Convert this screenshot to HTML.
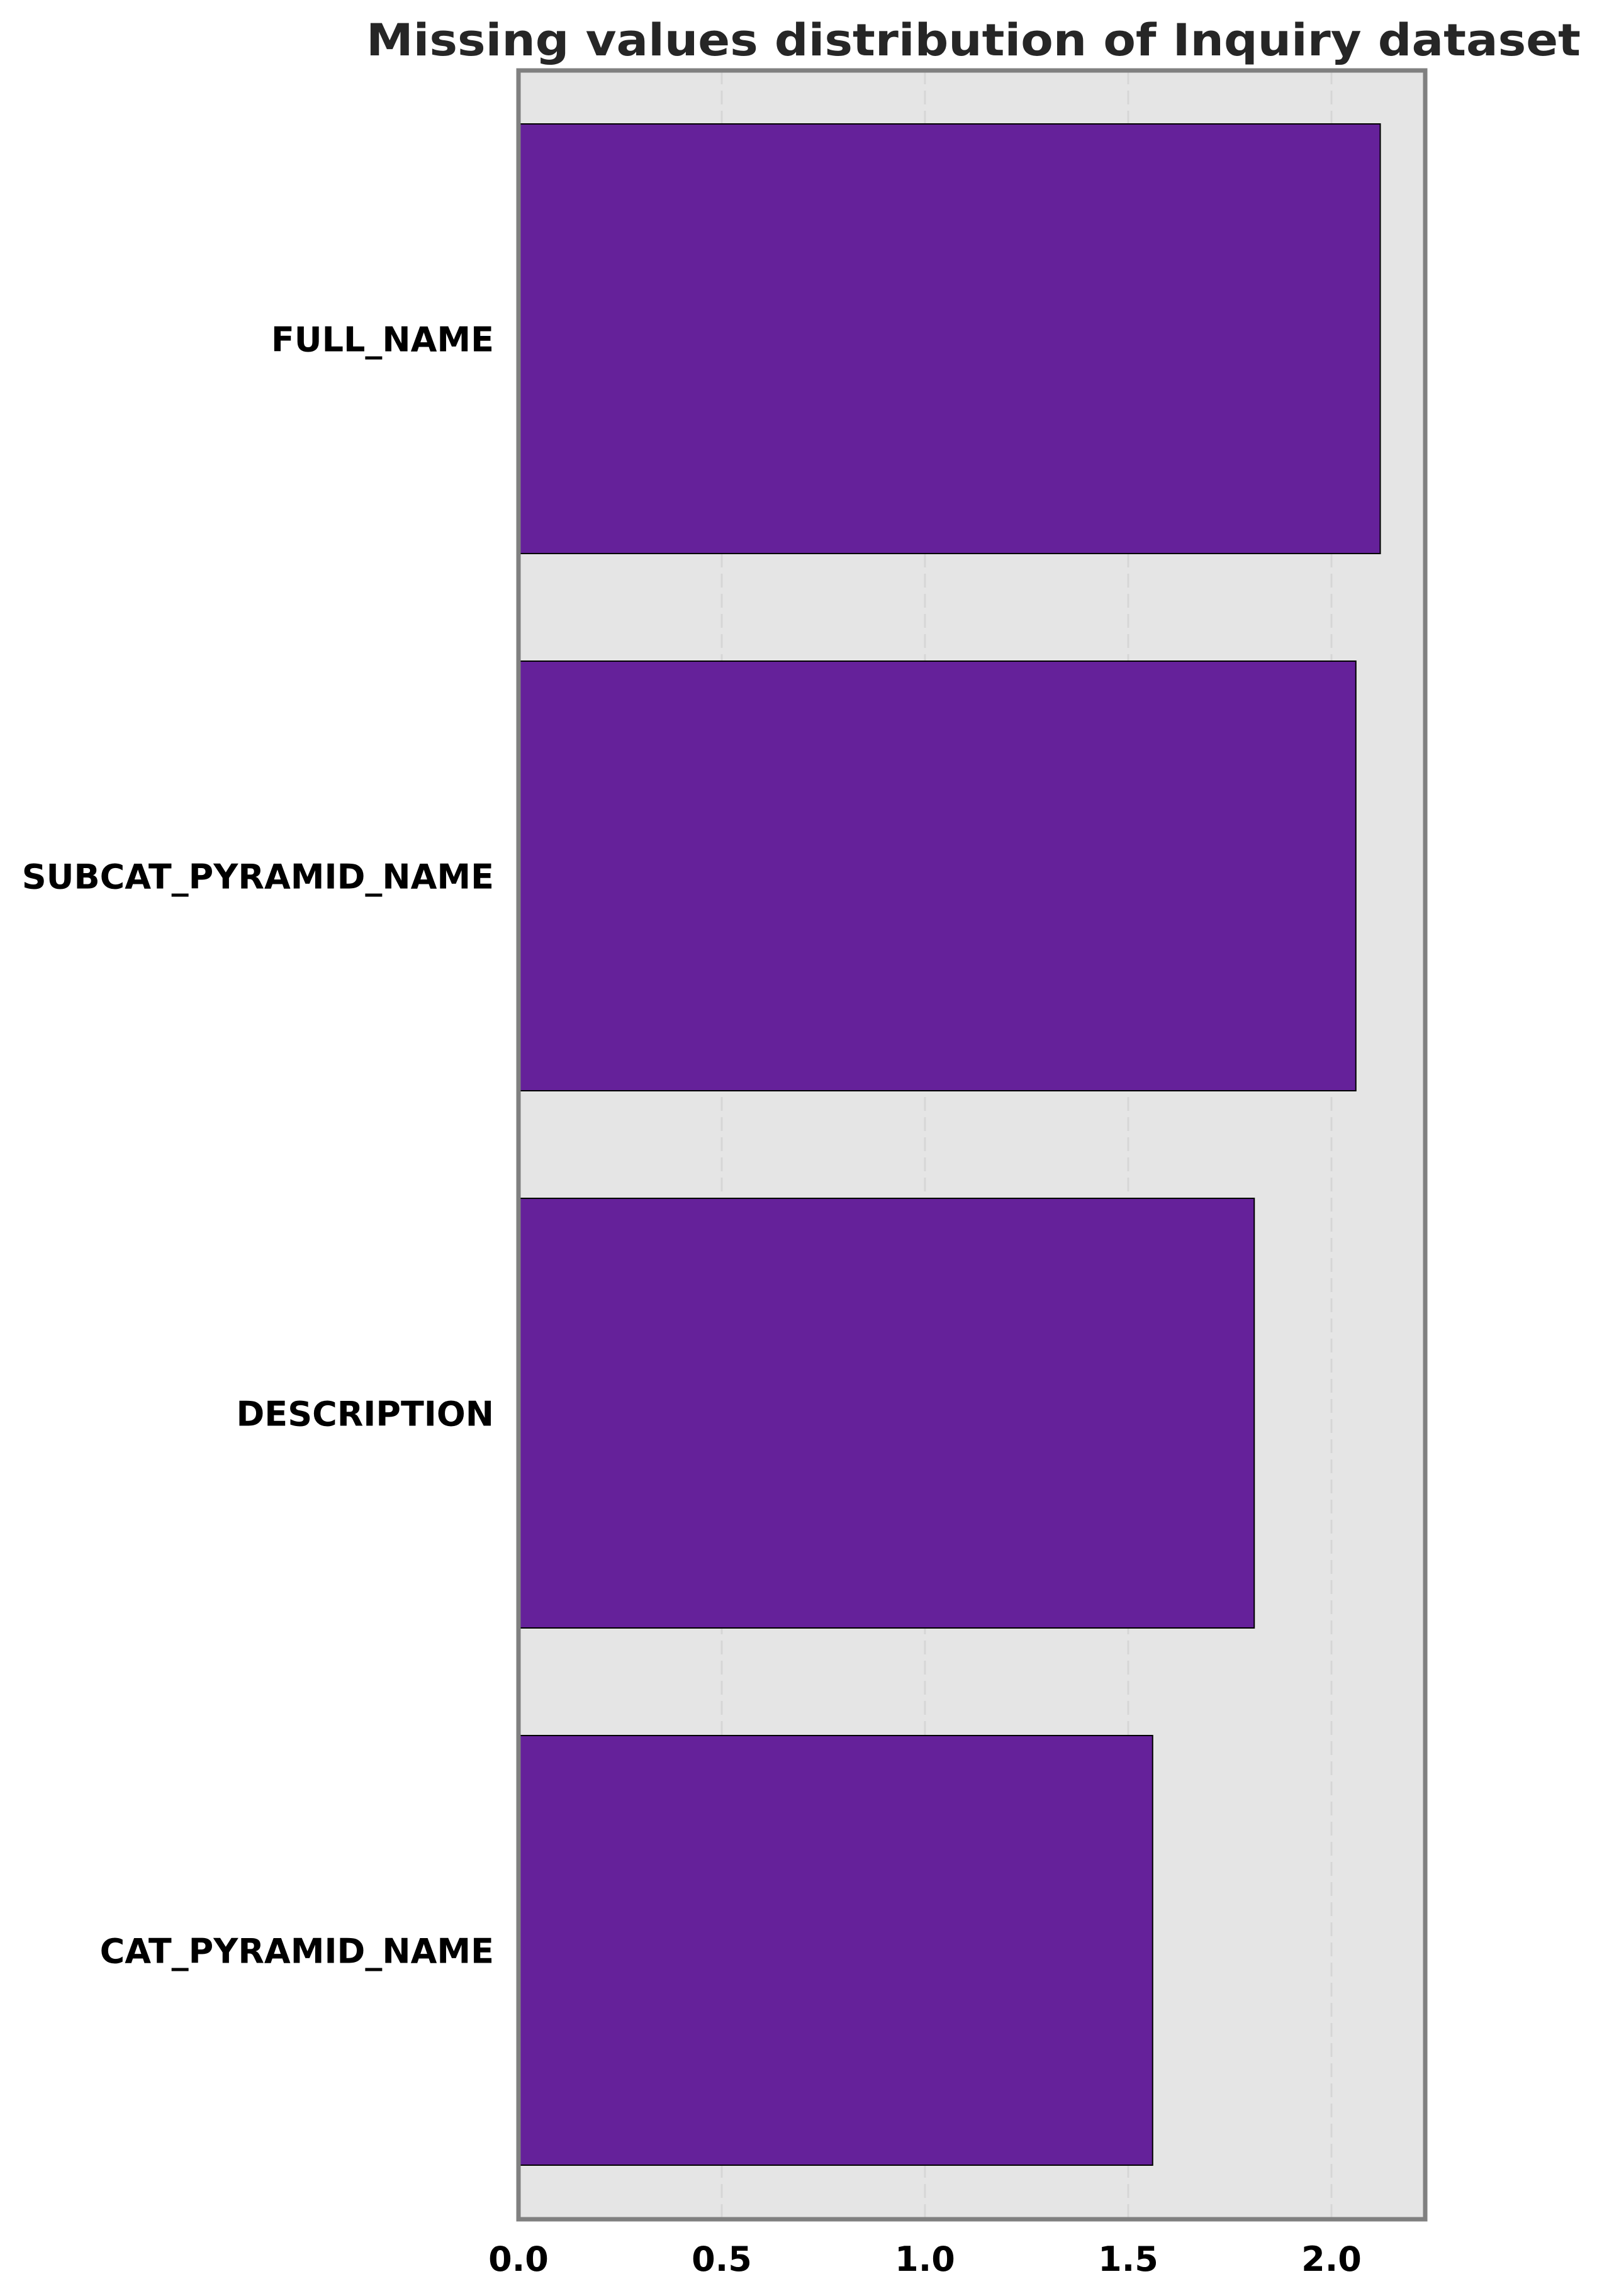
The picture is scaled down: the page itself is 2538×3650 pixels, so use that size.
<!DOCTYPE html>
<html><head><meta charset="utf-8"><style>html,body{margin:0;padding:0;background:#fff}svg{display:block}</style></head>
<body>
<svg id="chart" width="2538" height="3650" viewBox="0 0 2538 3650" xmlns="http://www.w3.org/2000/svg" font-family="DejaVu Sans, Liberation Sans, sans-serif">
<rect x="824" y="112" width="1441" height="3416" fill="#e5e5e5"/>
<g id="grid"></g>
<g id="bars"></g>
<rect x="824" y="112" width="1441" height="3416" fill="none" stroke="#808080" stroke-width="7"/>
<g id="xticks"></g>
<g id="ylabels"></g>
<text x="1547" y="88" text-anchor="middle" font-size="70" font-weight="bold" fill="#262626" textLength="1930" lengthAdjust="spacingAndGlyphs">Missing values distribution of Inquiry dataset</text>
</svg>
<script>
const categories = ["FULL_NAME", "SUBCAT_PYRAMID_NAME", "DESCRIPTION", "CAT_PYRAMID_NAME"];
const values = [2.12, 2.06, 1.81, 1.56];
const xTicks = [0, 0.5, 1.0, 1.5, 2.0];
const xTickLabels = ["0.0", "0.5", "1.0", "1.5", "2.0"];

const NS = "http://www.w3.org/2000/svg";
const X0 = 824, PXU = 646;
function xScale(v){ return X0 + v * PXU; }
const pitch = 854, barH = 683, firstTop = 197;
function yTop(i){ return firstTop + i * pitch; }

const grid = document.getElementById('grid');
xTicks.forEach((t,i)=>{
  if (t === 0) return;
  const l = document.createElementNS(NS,'line');
  
  
  l.setAttribute('x1', xScale(t)); l.setAttribute('x2', xScale(t));
  l.setAttribute('y1', 112); l.setAttribute('y2', 3528);
  l.setAttribute('stroke', '#d6d6d6'); l.setAttribute('stroke-width', '3');
  l.setAttribute('stroke-dasharray', '22 10');
  grid.appendChild(l);
});
const xt = document.getElementById('xticks');
xTicks.forEach((t,i)=>{
  const tx = document.createElementNS(NS,'text');
  
  
  tx.setAttribute('x', xScale(t)); tx.setAttribute('y', 3610);
  tx.setAttribute('text-anchor', 'middle'); tx.setAttribute('font-size', '54');
  tx.setAttribute('font-weight', 'bold'); tx.setAttribute('fill', '#000');
  tx.textContent = xTickLabels[i];
  xt.appendChild(tx);
});
const bars = document.getElementById('bars');
const yl = document.getElementById('ylabels');
categories.forEach((c,i)=>{
  const r = document.createElementNS(NS,'rect');
  
  
  r.setAttribute('x', xScale(0)); r.setAttribute('y', yTop(i));
  r.setAttribute('width', xScale(values[i]) - xScale(0)); r.setAttribute('height', barH);
  r.setAttribute('fill', '#65219a'); r.setAttribute('stroke', '#000'); r.setAttribute('stroke-width', '2');
  bars.appendChild(r);
  const t = document.createElementNS(NS,'text');
  
  
  t.setAttribute('x', 785); t.setAttribute('y', yTop(i) + barH/2 + 20);
  t.setAttribute('text-anchor', 'end'); t.setAttribute('font-size', '54');
  t.setAttribute('font-weight', 'bold'); t.setAttribute('fill', '#000');
  t.textContent = c;
  yl.appendChild(t);
});
</script>
</body></html>
